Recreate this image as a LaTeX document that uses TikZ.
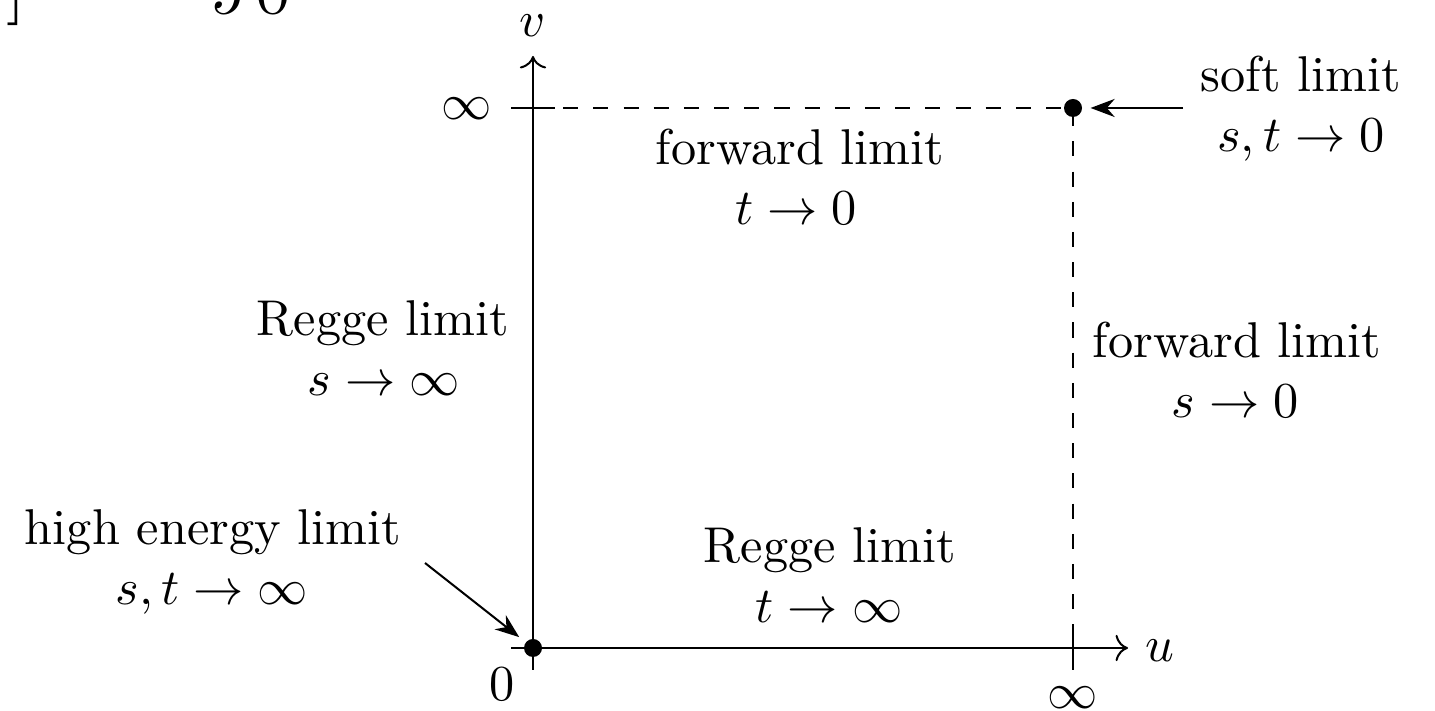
\documentclass[tikz,border=0pt]{standalone}
\usetikzlibrary{arrows.meta}
\begin{document}
\begin{tikzpicture}[x=0.1988pt,y=-0.1988pt,
  lbl/.style={anchor=base,inner sep=0pt},
  dotnode/.style={circle,fill=black,inner sep=0pt,minimum size=3.58pt},
  limarrow/.style={-{Stealth},shorten >=1.5pt},
  guide/.style={dashed},
  tickmark/.style={draw}]
\useasboundingbox (0,0) rectangle (1435,711);
% cropped fragments of text above
\node[lbl,font=\Large] (fragA) at (16,8) {$]$};
\node[lbl,font=\Large] (fragB) at (72,-2) {$\omega$};
\node[lbl,font=\Large] (fragC) at (250,14) {$J0$};
% axes
\coordinate (O) at (533,648);
\coordinate (uend) at (1128,648);
\coordinate (vend) at (533,56);
\draw[->] (O) -- (uend);
\draw[->] (O) -- (vend);
% ticks
\draw (511,648) -- (555,648);
\draw (533,626) -- (533,670);
\draw (511,108) -- (555,108);
\draw (1073,626) -- (1073,670);
% dots
\node[dotnode] (odot) at (O) {};
\node[dotnode] (softdot) at (1073,108) {};
% dashed guides
\draw[guide] (533,108) -- (softdot.center) -- (1073,648);
% axis labels
\node[lbl] (vlab) at (533,37) {$v$};
\node[lbl] (ulab) at (1160,662) {$u$};
\node (vinf) at (467,109) {$\infty$};
\node[lbl] (zero) at (502,701) {$0$};
\node (uinf) at (1073,698) {$\infty$};
% limit labels
\node[lbl] (soft1) at (1301,92) {soft limit};
\node[lbl] (soft2) at (1301,152) {$s,t\to 0$};
\node[lbl] (fwt1) at (800,165) {forward limit};
\node[lbl] (fwt2) at (796,225) {$t\to 0$};
\node[lbl] (rgs1) at (383,336) {Regge limit};
\node[lbl] (rgs2) at (384,396) {$s\to\infty$};
\node[lbl] (fws1) at (1237,358) {forward limit};
\node[lbl] (fws2) at (1235,418) {$s\to 0$};
\node[lbl] (he1) at (213,545) {high energy limit};
\node[lbl] (he2) at (212,605) {$s,t\to\infty$};
\node[lbl] (rgt1) at (830,563) {Regge limit};
\node[lbl] (rgt2) at (829,623) {$t\to\infty$};
% pointer arrows
\coordinate (softfrom) at (1183,108);
\coordinate (hefrom) at (425,563);
\draw[limarrow] (softfrom) -- (softdot);
\draw[limarrow] (hefrom) -- (odot);
\end{tikzpicture}
\end{document}
